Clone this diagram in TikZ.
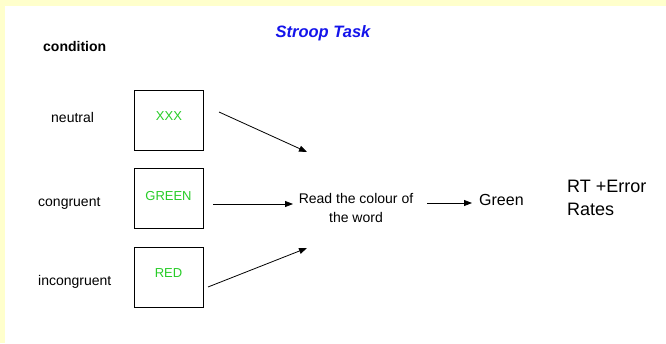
\documentclass[tikz,border=0pt]{standalone}
\usepackage{fontspec}
\setmainfont{Liberation Sans}
\usetikzlibrary{arrows.meta}
\definecolor{bgyellow}{RGB}{255,255,204}
\definecolor{wordgreen}{RGB}{40,205,40}
\definecolor{titleblue}{RGB}{20,20,235}
\begin{document}
\begin{tikzpicture}[x=1pt,y=-1pt,
  wordbox/.style={draw,line width=0.9pt,minimum width=69pt,minimum height=60pt,inner sep=0pt},
  word/.style={text=wordgreen,font=\fontsize{13}{15}\selectfont,inner sep=0pt},
  cond/.style={font=\fontsize{14}{16}\selectfont,inner sep=0pt,anchor=west},
  arr/.style={line width=0.8pt,-{Triangle[length=8pt,width=6pt]}}]
\fill[bgyellow] (0,0) rectangle (666,343);
\fill[white] (5,6) rectangle (666,343);
\useasboundingbox (0,0) rectangle (666,343);

\node[text=titleblue,font=\fontsize{16.5}{18}\selectfont\bfseries\itshape,inner sep=0pt] (title) at (323,33) {Stroop Task};
\node[font=\fontsize{14}{16}\selectfont\bfseries,inner sep=0pt,anchor=west] (condition) at (43,46) {condition};

\node[cond] (neutral) at (51,117) {neutral};
\node[cond] (congruent) at (38,203) {congruent};
\node[cond] (incongruent) at (38,282) {incongruent};

\node[wordbox] (b1) at (168.5,120) {};
\node[wordbox] (b2) at (168.5,198.5) {};
\node[wordbox] (b3) at (168.5,277.5) {};
\node[word] (w1) at (169,116) {XXX};
\node[word] (w2) at (168.5,196) {GREEN};
\node[word] (w3) at (168.5,273) {RED};

\node[align=center,font=\fontsize{14}{19}\selectfont,inner sep=0pt] (read) at (356,207.5) {Read the colour of\\the word};
\node[font=\fontsize{16}{18}\selectfont,inner sep=0pt,anchor=west] (green) at (479,200) {Green};
\node[align=left,font=\fontsize{18}{23}\selectfont,inner sep=0pt,anchor=north west] (rt) at (567,180) {RT +Error\\Rates};

\coordinate (a1s) at (219,112);
\coordinate (a1e) at (307,152);
\coordinate (a2s) at (213,204);
\coordinate (a2e) at (293,204);
\coordinate (a3s) at (208,287);
\coordinate (a3e) at (307,248);
\coordinate (a4s) at (427,203);
\coordinate (a4e) at (472,203);
\draw[arr] (a1s) -- (a1e);
\draw[arr] (a2s) -- (a2e);
\draw[arr] (a3s) -- (a3e);
\draw[arr] (a4s) -- (a4e);
\end{tikzpicture}
\end{document}
